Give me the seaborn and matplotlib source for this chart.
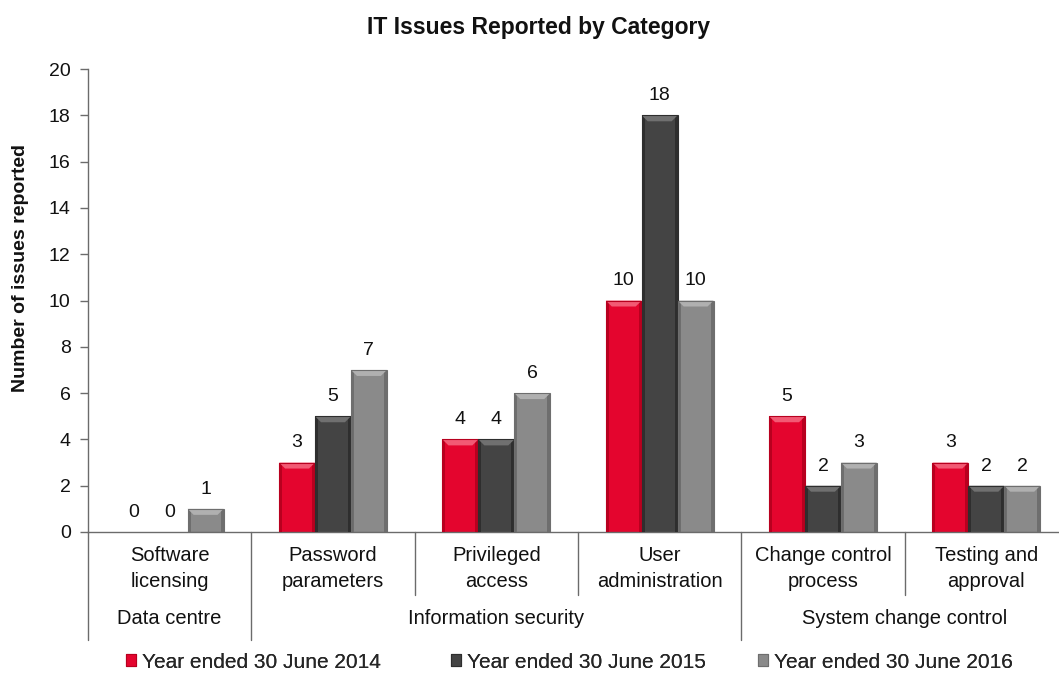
import numpy as np
import pandas as pd
import matplotlib
matplotlib.use("Agg")
import matplotlib.pyplot as plt
from matplotlib.patches import Rectangle, Polygon
import seaborn as sns

# Issue counts per sub-category, one list per financial year
categories = ["Software\nlicensing", "Password\nparameters", "Privileged\naccess",
              "User\nadministration", "Change control\nprocess", "Testing and\napproval"]
groups = ["Data centre", "Information security", "System change control"]
group_spans = [(0, 0), (1, 3), (4, 5)]
years = ["Year ended 30 June 2014", "Year ended 30 June 2015", "Year ended 30 June 2016"]
fy2014 = [0, 3, 4, 10, 5, 3]
fy2015 = [0, 5, 4, 18, 2, 2]
fy2016 = [1, 7, 6, 10, 3, 2]

colors = ["#E4052E", "#444444", "#8A8A8A"]
sides = ["#B8001F", "#2E2E2E", "#6E6E6E"]
tops = ["#F25A74", "#707070", "#B0B0B0"]

df = pd.DataFrame({
    "category": categories * 3,
    "year": np.repeat(years, len(categories)),
    "count": fy2014 + fy2015 + fy2016,
})

sns.set_theme(style="white")
plt.rcParams["font.family"] = ["Liberation Sans", "DejaVu Sans"]
TXT = "#111111"
AX = "#6b6b6b"

W, H = 1059, 681
fig = plt.figure(figsize=(W / 100, H / 100), dpi=100)
ax = fig.add_axes([88 / W, 149 / H, 980 / W, 463 / H])

sns.barplot(data=df, x="category", y="count", hue="year", order=categories,
            hue_order=years, palette=colors, width=0.66, gap=0, saturation=1,
            edgecolor="none", linewidth=0, legend=False, ax=ax)

ax.set_xlim(-0.5, len(categories) - 0.5)
ax.set_ylim(0, 20)
ax.set_yticks(np.arange(0, 21, 2))

# bevelled look for every bar, derived from the bar geometry
px_x = 1 / 163.5
px_y = 20 / 463
for container, side, top in zip(ax.containers, sides, tops):
    for bar in container:
        x0, w, h = bar.get_x(), bar.get_width(), bar.get_height()
        if h <= 0:
            continue
        sw = 3 * px_x
        ax.add_patch(Rectangle((x0, 0), sw, h, color=side, lw=0, zorder=3))
        ax.add_patch(Rectangle((x0 + w - sw, 0), sw, h, color=side, lw=0, zorder=3))
        bh = min(6 * px_y, h * 0.4)
        ax.add_patch(Polygon([(x0, h), (x0 + w, h), (x0 + w - 2 * sw, h - bh),
                              (x0 + 2 * sw, h - bh)], closed=True, color=top,
                             lw=0, zorder=3))
        ax.add_patch(Rectangle((x0, 0), w, h, fill=False, ec=side, lw=0.8, zorder=4))
    ax.bar_label(container, labels=[str(int(v)) for v in container.datavalues],
                 padding=8, fontsize=14, color=TXT)

ax.set_xticks(range(len(categories)))
ax.set_xticklabels(categories, fontsize=14.5, linespacing=1.5, color=TXT)
ax.tick_params(axis="x", length=0, pad=10)
ax.tick_params(axis="y", left=True, length=5.5, width=1, color=AX,
               labelsize=14, pad=7, labelcolor=TXT)
ax.set_xlabel("")
ax.set_ylabel("Number of issues reported", fontsize=14, fontweight="bold", color=TXT)
ax.yaxis.set_label_coords(-(88 - 29) / 980, (532 - 268) / 463)

for s in ["top", "right"]:
    ax.spines[s].set_visible(False)
for s in ["left", "bottom"]:
    ax.spines[s].set_color(AX)
    ax.spines[s].set_linewidth(1)

# separators below the axis: short between sub-categories, long between groups
trans = ax.get_xaxis_transform()
group_edges = {g[0] - 0.5 for g in group_spans} | {g[1] + 0.5 for g in group_spans}
for b in np.arange(-0.5, len(categories), 1.0):
    depth = 108 / 463 if b in group_edges else 63 / 463
    ax.plot([b, b], [0, -depth], transform=trans, color=AX, lw=1, clip_on=False)

for name, (a, b) in zip(groups, group_spans):
    ax.text((a + b) / 2, -87 / 463, name, transform=trans, ha="center",
            va="center", fontsize=14.5, color=TXT)

fig.text(539 / W, 1 - 34 / H, "IT Issues Reported by Category",
         ha="center", va="baseline", fontsize=16.5, fontweight="bold", color=TXT)

# one legend entry per year, laid out along the bottom edge
legend_x = [126, 451, 758]
for year, c, s, lx in zip(years, colors, sides, legend_x):
    leg = fig.legend([Rectangle((0, 0), 1, 1, fc=c, ec=s, lw=0.8)], [year],
                     loc="center left", bbox_to_anchor=(lx / W, 1 - 662 / H),
                     frameon=False, fontsize=15, handlelength=0.5,
                     handleheight=0.5, handletextpad=0.25, borderpad=0,
                     borderaxespad=0)
    fig.add_artist(leg)

fig.savefig("out.png", dpi=100)
